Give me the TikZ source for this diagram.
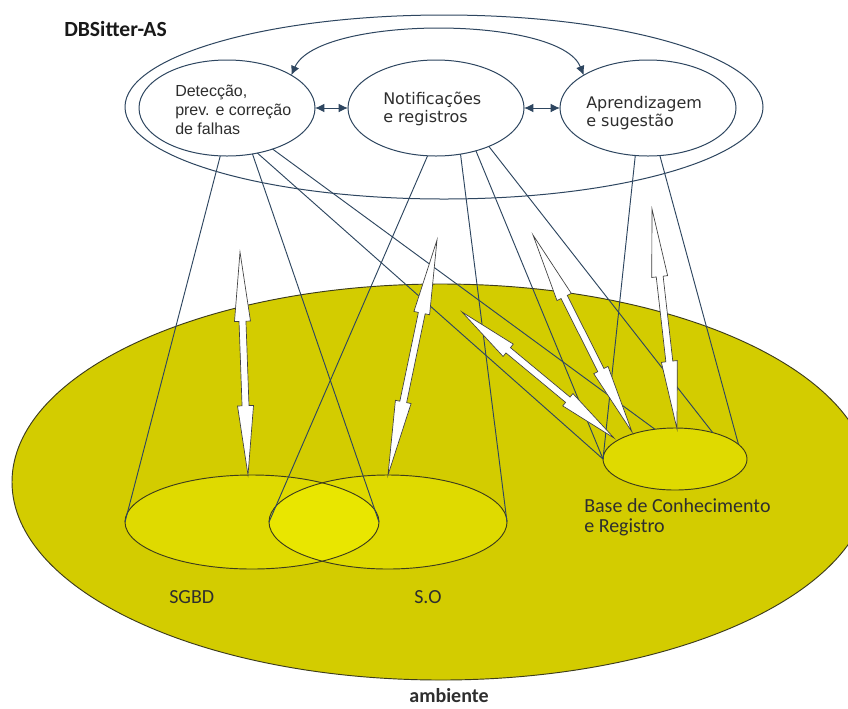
\documentclass[tikz,border=0pt]{standalone}
\usepackage{fontspec}
\setmainfont{Liberation Sans}
\newfontfamily\arialfont{Liberation Sans}
\newfontfamily\verdfont{DejaVu Sans}
\newfontfamily\califont{Carlito}
\usetikzlibrary{calc,shapes.geometric,arrows.meta}

\definecolor{ambfill}{HTML}{D3CC00}
\definecolor{subfill}{HTML}{DFDA00}
\definecolor{overlapfill}{HTML}{E9E600}
\definecolor{inkline}{HTML}{2E4660}
\definecolor{olivedge}{HTML}{3D3C1C}
\definecolor{txtgray}{HTML}{2E2E2E}

% hollow double-headed arrow between two named points
\newcommand\hollowarrow[3]{%
  \draw[warrow]
    (#1)
    -- ($(#1)!#3!(#2)!6pt!90:(#2)$)
    -- ($(#1)!#3!(#2)!2.6pt!90:(#2)$)
    -- ($(#2)!#3!(#1)!2.6pt!-90:(#1)$)
    -- ($(#2)!#3!(#1)!6pt!-90:(#1)$)
    -- (#2)
    -- ($(#2)!#3!(#1)!6pt!90:(#1)$)
    -- ($(#2)!#3!(#1)!2.6pt!90:(#1)$)
    -- ($(#1)!#3!(#2)!2.6pt!-90:(#2)$)
    -- ($(#1)!#3!(#2)!6pt!-90:(#2)$)
    -- cycle;}

\begin{document}
\begin{tikzpicture}[x=0.75pt,y=-0.75pt,
  oval/.style={ellipse, inner sep=0pt, outer sep=0pt},
  topoval/.style={oval, draw=inkline, line width=0.75pt},
  cone/.style={draw=inkline, line width=0.7pt},
  warrow/.style={fill=white, draw=black!75, line width=0.5pt, line join=miter},
  darrow/.style={draw=inkline, line width=0.75pt, {Latex[length=7pt,width=6.5pt]}-{Latex[length=7pt,width=6.5pt]}},
  lab/.style={inner sep=0pt, text=txtgray}
]
\useasboundingbox (0,0) rectangle (848,708);
\fill[white] (0,0) rectangle (848,708);
\clip (0,0) rectangle (848,708);

% environment
\node[oval, fill=ambfill, draw=olivedge, line width=0.7pt,
      minimum width=643.5pt, minimum height=297pt] (amb) at (441,482) {};

% monitored components
\node[oval, fill=subfill, minimum width=190.5pt, minimum height=70.5pt] (SG) at (252,522) {};
\node[oval, fill=subfill, minimum width=178.5pt, minimum height=70.5pt] (SO) at (388,522) {};
\node[oval, fill=subfill, minimum width=108pt, minimum height=46.5pt] (BK) at (675,459) {};
\begin{scope}
  \clip (SG.center) ellipse [x radius=127, y radius=47];
  \fill[overlapfill] (SO.center) ellipse [x radius=119, y radius=47];
\end{scope}
\draw[olivedge, line width=0.7pt] (SG.center) ellipse [x radius=127, y radius=47];
\draw[olivedge, line width=0.7pt] (SO.center) ellipse [x radius=119, y radius=47];
\draw[olivedge, line width=0.7pt] (BK.center) ellipse [x radius=72, y radius=31];

% agent modules
\node[topoval, minimum width=132pt, minimum height=72pt] (D) at (227,108) {};
\node[topoval, minimum width=132pt, minimum height=72pt] (N) at (436,108) {};
\node[topoval, minimum width=132pt, minimum height=72pt] (A) at (648,108) {};

% projection cones
\draw[cone] (D.-98.1) -- (SG.180);
\draw[cone] (D.-61) -- (SG.0);
\draw[cone] (D.-56) -- (BK.180);
\draw[cone] (D.-42.4) -- (BK.124.6);
\draw[cone] (N.-100.4) -- (SO.180);
\draw[cone] (N.-62.9) -- (SO.0);
\draw[cone] (N.-47.7) -- (BK.180);
\draw[cone] (N.-36.5) -- (BK.35.4);
\draw[cone] (A.-105.5) -- (BK.180);
\draw[cone] (A.-76.2) -- (BK.13.8);

% interaction arrows
\coordinate (w1a) at (240,252); \coordinate (w1b) at (248,475);
\coordinate (w2a) at (437,240); \coordinate (w2b) at (388,475);
\coordinate (w3a) at (462,312); \coordinate (w3b) at (614,438);
\coordinate (w4a) at (533,235); \coordinate (w4b) at (632,432);
\coordinate (w5a) at (652,209); \coordinate (w5b) at (677,429);
\hollowarrow{w1a}{w1b}{52pt}
\hollowarrow{w2a}{w2b}{56pt}
\hollowarrow{w3a}{w3b}{45pt}
\hollowarrow{w4a}{w4b}{52pt}
\hollowarrow{w5a}{w5b}{51pt}

% system boundary
\node[oval, draw=inkline, line width=0.75pt, minimum width=478.5pt, minimum height=138pt] (sys) at (444,107) {};

% links between modules
\draw[darrow] (D.27) .. controls (318,15) and (560,15) .. (A.153);
\draw[darrow] (D.east) -- (N.west);
\draw[darrow] (N.east) -- (A.west);

% labels
\node[lab, anchor=west, text=black!90, font=\califont\bfseries\fontsize{16.2}{18}\selectfont] (title) at (64,29) {DBSitter-AS};
\node[lab, anchor=north west, align=left, font=\arialfont\fontsize{12}{14.3}\selectfont] (Dtxt) at (175,85) {Detecção,\\prev. e correção\\de falhas};
\node[lab, anchor=north west, align=left, font=\verdfont\fontsize{12}{13.6}\selectfont] (Ntxt) at (383,92) {Notificações\\e registros};
\node[lab, anchor=north west, align=left, font=\verdfont\fontsize{12}{13.6}\selectfont] (Atxt) at (586,96) {Aprendizagem\\e sugestão};
\node[lab, anchor=west, font=\califont\fontsize{15}{18}\selectfont] (SGlab) at (169,597) {SGBD};
\node[lab, anchor=west, font=\califont\fontsize{15}{18}\selectfont] (SOlab) at (414,597) {S.O};
\node[lab, anchor=north west, align=left, font=\califont\fontsize{15}{15}\selectfont] (BKlab) at (584,498) {Base de Conhecimento\\e Registro};
\node[lab, font=\califont\bfseries\fontsize{15}{18}\selectfont] (amblab) at (449,696) {ambiente};
\end{tikzpicture}
\end{document}
